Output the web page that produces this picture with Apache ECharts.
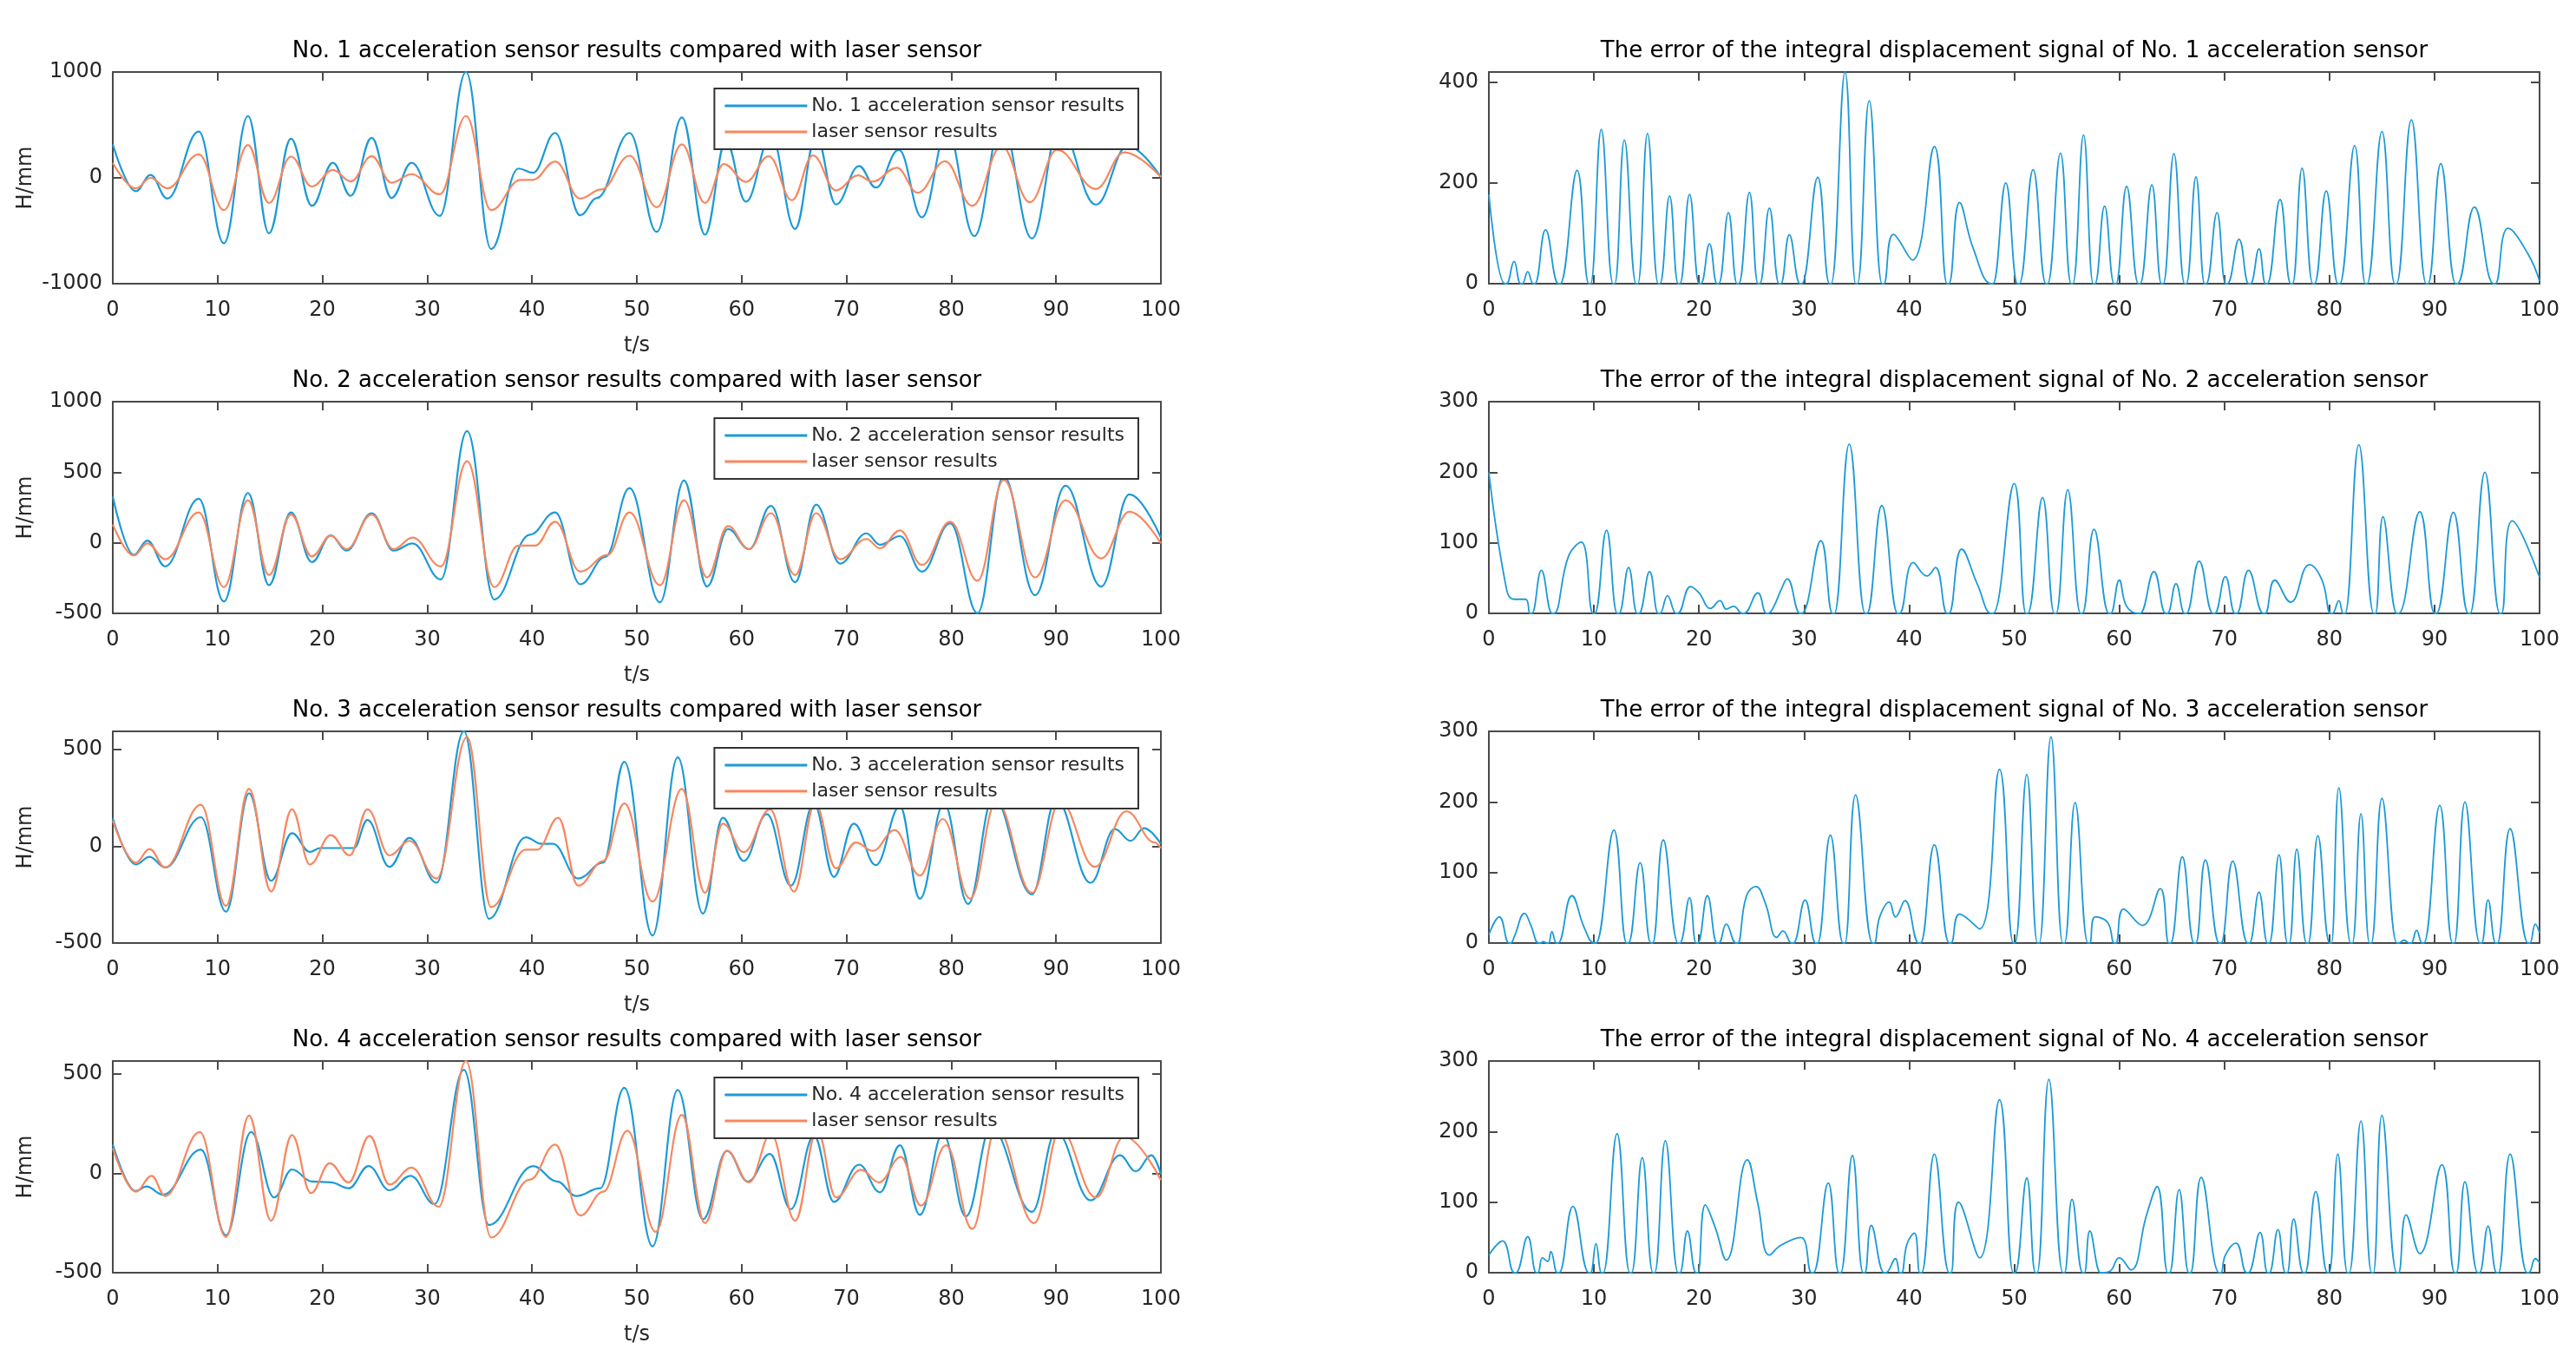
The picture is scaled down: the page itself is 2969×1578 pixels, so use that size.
<!DOCTYPE html>
<html>
<head>
<meta charset="utf-8">
<script src="https://cdn.jsdelivr.net/npm/echarts@6/dist/echarts.min.js"></script>
<style>
html,body{margin:0;padding:0;background:#fff;}
#chart{width:2969px;height:1578px;}
</style>
</head>
<body>
<div id="chart"></div>
<script>
// ---------------- DATA ----------------
const xTicks = [0,10,20,30,40,50,60,70,80,90,100];
const leftTitles = [
  'No. 1 acceleration sensor results compared with laser sensor',
  'No. 2 acceleration sensor results compared with laser sensor',
  'No. 3 acceleration sensor results compared with laser sensor',
  'No. 4 acceleration sensor results compared with laser sensor'
];
const rightTitles = [
  'The error of the integral displacement signal of No. 1 acceleration sensor',
  'The error of the integral displacement signal of No. 2 acceleration sensor',
  'The error of the integral displacement signal of No. 3 acceleration sensor',
  'The error of the integral displacement signal of No. 4 acceleration sensor'
];
const accNames = [
  'No. 1 acceleration sensor results',
  'No. 2 acceleration sensor results',
  'No. 3 acceleration sensor results',
  'No. 4 acceleration sensor results'
];
const laserName = 'laser sensor results';
const xName = 't/s';
const yName = 'H/mm';

const leftYMin = [-1000, -500, -500, -500];
const leftYMax = [1000, 1000, 592, 566];
const leftYStep = [1000, 500, 500, 500];
const rightYMin = [0, 0, 0, 0];
const rightYMax = [420, 300, 300, 300];
const rightYStep = [200, 100, 100, 100];

const acc1 = [[0,316],[2.2,-126],[3.6,27],[5.2,-196],[8.2,437],[10.6,-618],[12.9,584],[14.9,-523],[17.0,370],[19.0,-264],[21.0,142],[22.7,-170],[24.7,378],[26.6,-190],[28.5,142],[31.2,-360],[33.7,1000],[36.1,-673],[38.7,88],[40.1,48],[42.2,424],[44.6,-354],[46.2,-190],[49.3,424],[51.9,-510],[54.3,571],[56.5,-537],[58.5,350],[60.4,-225],[62.8,400],[65.1,-482],[67.1,400],[69.0,-252],[71.2,112],[72.8,-92],[75.0,266],[77.2,-373],[79.6,450],[82.2,-550],[84.8,520],[87.7,-572],[90.3,480],[93.8,-254],[96.8,300],[100,8]];
const las1 = [[0,142],[2.2,-100],[3.6,0],[5.2,-100],[8.2,222],[10.6,-305],[12.9,311],[14.9,-237],[17.0,201],[19.0,-82],[21.0,75],[22.7,-33],[24.7,204],[26.6,-46],[28.5,35],[31.2,-155],[33.7,584],[36.1,-305],[38.9,-19],[40.1,-19],[42.2,155],[44.6,-196],[46.6,-110],[49.3,209],[51.9,-278],[54.3,316],[56.5,-237],[58.3,130],[60.4,-38],[62.6,204],[64.8,-211],[66.8,212],[69.0,-118],[71.1,23],[72.5,-35],[74.8,96],[76.8,-140],[79.4,157],[82.0,-264],[84.8,300],[87.5,-230],[90.1,266],[93.8,-105],[96.5,241],[100,8]];
const err1 = [[0,177],[1.6,0],[2.4,44],[3.1,0],[3.7,24],[4.3,0],[5.4,107],[6.7,0],[8.4,225],[9.6,0],[10.7,306],[11.9,0],[12.9,285],[14.1,0],[15.1,298],[16.2,0],[17.2,174],[18.1,0],[19.1,177],[20.1,0],[21.0,79],[21.8,0],[22.8,141],[23.7,0],[24.8,181],[25.7,0],[26.7,150],[27.7,0],[28.6,97],[29.7,0],[31.3,211],[32.5,0],[33.9,420],[35.0,0],[36.2,363],[37.5,0],[38.5,98],[40.3,47],[42.4,272],[43.7,0],[44.8,161],[46.1,70],[47.9,0],[49.2,200],[50.4,0],[51.8,226],[53.1,0],[54.4,259],[55.5,0],[56.6,295],[57.6,0],[58.6,154],[59.6,0],[60.7,193],[61.9,0],[63.1,196],[64.1,0],[65.2,258],[66.3,0],[67.3,212],[68.2,0],[69.3,141],[70.2,0],[71.4,88],[72.4,0],[73.3,69],[74.0,0],[75.3,167],[76.4,0],[77.4,229],[78.5,0],[79.7,184],[80.9,0],[82.4,274],[83.5,0],[85.0,302],[86.3,0],[87.8,325],[89.3,0],[90.6,238],[92.1,0],[93.8,152],[95.7,0],[97.0,110],[98.9,59],[100,5]];

const acc2 = [[0,327],[2.0,-86],[3.3,16],[5.0,-167],[8.2,312],[10.6,-416],[12.9,353],[14.9,-300],[17.0,216],[19.0,-137],[20.8,53],[22.3,-55],[24.7,210],[26.8,-55],[28.6,-4],[31.3,-259],[33.8,792],[36.4,-402],[39.8,57],[42.2,216],[44.6,-294],[47.0,-100],[49.3,388],[52.2,-422],[54.5,441],[56.7,-310],[58.7,98],[60.7,-45],[62.8,261],[65.1,-280],[67.1,271],[69.4,-147],[71.9,67],[73.2,-14],[75.1,47],[77.2,-204],[79.9,139],[82.5,-498],[85.0,470],[88.0,-371],[90.9,404],[94.3,-310],[97.0,343],[100,37]];
const las2 = [[0,129],[2.0,-90],[3.3,-4],[5.0,-116],[8.2,216],[10.6,-314],[12.9,302],[14.9,-229],[17.0,200],[19.0,-96],[20.8,51],[22.3,-45],[24.7,200],[26.8,-45],[28.6,37],[31.3,-167],[33.8,578],[36.4,-314],[38.7,-20],[40.3,-20],[42.2,149],[44.6,-204],[47.2,-86],[49.3,216],[52.2,-300],[54.5,302],[56.7,-245],[58.7,118],[60.7,-45],[62.8,210],[65.1,-229],[67.1,210],[69.4,-116],[71.9,27],[73.2,-39],[75.1,88],[77.2,-157],[79.9,149],[82.5,-269],[85.0,445],[88.0,-245],[90.9,302],[94.3,-110],[97.0,220],[100,-4]];
const err2 = [[0,200],[1.7,33],[2.4,20],[3.5,20],[4.0,0],[5.0,61],[6.1,0],[7.6,82],[8.8,101],[10.0,0],[11.2,118],[12.3,0],[13.3,65],[14.2,0],[15.3,59],[16.2,0],[17.0,25],[17.9,0],[19.2,38],[20.0,29],[21.1,7],[22.0,18],[22.6,6],[23.3,10],[24.2,0],[25.6,29],[26.5,0],[27.1,9],[27.8,33],[28.4,49],[29.7,0],[31.6,103],[32.8,0],[34.3,240],[35.9,0],[37.4,153],[39.0,0],[40.4,72],[41.7,53],[42.5,65],[43.7,0],[45.0,91],[46.5,41],[47.9,0],[50.0,184],[51.2,0],[52.7,164],[53.9,0],[55.1,175],[56.4,0],[57.6,119],[59.1,0],[60.0,47],[60.7,10],[61.9,0],[63.3,59],[64.5,0],[65.4,42],[66.3,0],[67.6,74],[69.0,0],[70.1,52],[71.1,0],[72.3,61],[73.8,0],[74.8,47],[76.3,16],[78.1,69],[79.3,47],[80.2,0],[80.9,18],[81.4,0],[82.8,239],[84.3,0],[85.1,137],[86.5,0],[88.6,144],[90.1,0],[91.8,143],[93.3,0],[94.8,200],[96.3,0],[97.4,131],[100,51]];

const acc3 = [[0,143],[2.2,-95],[3.5,-55],[5.0,-110],[8.4,149],[10.8,-338],[13.0,272],[15.1,-179],[17.1,67],[18.8,-30],[19.8,-10],[23.0,-10],[24.3,135],[26.4,-107],[28.3,42],[30.9,-189],[33.5,592],[35.9,-375],[39.4,45],[40.9,12],[42.0,12],[44.4,-167],[46.8,-85],[48.8,435],[51.5,-461],[53.9,458],[56.3,-348],[58.2,146],[60.2,-77],[62.4,165],[64.7,-204],[66.9,220],[68.8,-159],[70.7,116],[72.8,-98],[75.1,205],[77.0,-271],[79.3,220],[81.6,-298],[84.0,250],[87.7,-249],[90.0,240],[93.3,-189],[95.6,88],[97.1,27],[98.4,92],[100,12]];
const las3 = [[0,131],[2.2,-85],[3.5,-15],[5.0,-110],[8.4,213],[10.8,-308],[13.0,295],[15.1,-234],[17.1,190],[18.8,-95],[20.8,57],[22.6,-48],[24.3,190],[26.4,-48],[28.3,27],[30.9,-167],[33.8,563],[36.1,-315],[39.4,-18],[40.5,-18],[42.5,146],[44.4,-204],[46.8,-77],[48.8,220],[51.5,-286],[54.3,295],[56.5,-241],[58.2,116],[60.2,-31],[62.7,190],[65.0,-234],[67.0,220],[69.0,-115],[70.9,19],[72.5,-25],[74.6,82],[77.0,-152],[79.2,140],[81.8,-271],[84.3,230],[87.7,-241],[90.4,230],[93.7,-107],[96.7,180],[99.4,19],[100,-10]];
const err3 = [[0,12],[1.0,37],[2.0,0],[2.4,8],[3.4,42],[4.0,25],[4.8,0],[5.2,2],[5.6,0],[6.0,16],[6.5,0],[7.9,67],[9.1,21],[10.1,0],[11.9,160],[13.2,0],[14.4,114],[15.5,0],[16.6,146],[18.1,0],[19.1,64],[19.8,0],[20.8,67],[21.8,0],[22.6,27],[23.6,0],[24.5,66],[25.4,80],[26.3,57],[27.4,8],[28.0,17],[28.9,0],[30.1,61],[31.2,0],[32.5,153],[33.8,0],[34.9,210],[36.6,0],[37.2,37],[38.1,58],[38.7,37],[39.6,60],[41.0,0],[42.4,139],[43.9,0],[44.8,41],[46.7,20],[48.6,246],[50.0,0],[51.2,239],[52.3,0],[53.5,292],[54.7,0],[55.8,199],[57.1,0],[57.7,37],[58.9,29],[59.6,0],[60.4,48],[62.2,25],[63.9,77],[64.8,0],[66.0,122],[67.2,0],[68.2,118],[69.6,0],[70.8,116],[72.3,0],[73.3,72],[74.2,0],[75.2,125],[76.1,0],[76.9,133],[77.9,0],[78.9,152],[80.1,0],[80.9,220],[82.1,0],[83.0,183],[83.9,0],[85.0,205],[86.5,0],[87.1,4],[87.7,0],[88.3,18],[88.9,0],[90.5,195],[91.8,0],[92.9,200],[94.4,0],[95.1,61],[95.9,0],[97.2,162],[99.0,0],[99.6,27],[100,14]];

const acc4 = [[0,145],[2.2,-89],[3.2,-66],[4.8,-107],[8.4,120],[10.8,-311],[13.2,208],[15.4,-121],[17.1,20],[19.0,-41],[20.8,-45],[22.5,-75],[24.4,37],[26.4,-85],[28.4,-12],[30.7,-154],[33.5,522],[35.9,-260],[40.1,37],[42.4,-41],[44.2,-114],[46.5,-75],[48.8,431],[51.5,-367],[53.9,420],[56.3,-231],[58.6,113],[60.6,-41],[62.7,98],[64.7,-180],[66.9,190],[68.8,-143],[71.2,44],[73.2,-95],[75.1,142],[77.0,-209],[79.2,200],[81.4,-216],[83.8,230],[87.7,-194],[90.0,210],[93.3,-136],[96.1,91],[97.6,10],[99.1,91],[100,-4]];
const las4 = [[0,127],[2.2,-92],[3.7,-12],[5.0,-114],[8.3,208],[10.8,-319],[13.0,291],[15.1,-238],[17.1,193],[18.9,-99],[20.7,51],[22.5,-45],[24.5,189],[26.4,-56],[28.5,29],[31.1,-168],[33.7,566],[36.1,-323],[39.8,-31],[42.2,145],[44.6,-212],[46.8,-92],[49.1,215],[51.8,-294],[54.3,295],[56.5,-250],[58.6,115],[60.7,-45],[62.8,200],[65.1,-238],[67.2,220],[69.0,-121],[71.4,18],[73.1,-45],[75.2,83],[77.1,-162],[79.5,142],[82.0,-279],[84.3,230],[87.9,-250],[90.4,220],[93.8,-121],[96.5,186],[100,-34]];
const err4 = [[0,25],[1.3,45],[2.5,0],[3.7,51],[4.6,0],[5.1,21],[5.6,16],[5.9,30],[6.6,0],[8.0,94],[9.6,0],[10.2,41],[10.8,0],[12.2,197],[13.5,0],[14.6,163],[15.7,0],[16.8,187],[18.1,0],[18.9,59],[19.8,0],[20.6,96],[21.5,66],[22.6,18],[24.6,160],[25.6,98],[26.7,25],[27.8,39],[29.7,50],[30.8,0],[32.3,127],[33.4,0],[34.6,166],[35.7,0],[36.4,67],[37.7,0],[38.7,20],[39.2,0],[39.8,41],[40.5,56],[41.1,0],[42.4,168],[43.9,0],[44.7,100],[46.7,21],[48.6,245],[50.0,0],[51.2,134],[52.1,0],[53.3,274],[54.7,0],[55.5,104],[56.6,0],[57.2,59],[58.3,0],[59.1,2],[60.0,21],[61.1,4],[62.6,82],[63.6,122],[64.7,0],[65.7,118],[66.7,0],[67.8,135],[69.6,0],[70.1,25],[71.1,42],[72.2,0],[73.4,57],[74.2,0],[75.1,61],[75.9,0],[76.6,76],[77.6,0],[78.7,115],[79.9,0],[80.8,168],[81.8,0],[83.0,215],[84.1,0],[85.0,223],[86.5,0],[87.3,82],[88.6,27],[90.7,153],[92.0,0],[92.9,129],[94.2,0],[95.1,66],[96.0,0],[97.2,168],[98.9,0],[99.6,20],[100,14]];

const accData = [acc1, acc2, acc3, acc4];
const lasData = [las1, las2, las3, las4];
const errData = [err1, err2, err3, err4];

// ---------------- LAYOUT / STYLE ----------------
const FONT = 'DejaVu Sans';
const BLUE = '#1c9ad6';
const ORANGE = '#f7875f';
const AXIS = '#4a4a4a';
const TXT = '#262626';
const LEFT_X = 130, LEFT_W = 1208;
const RIGHT_X = 1716, RIGHT_W = 1211;
const TOPS = [83, 463, 843, 1223];
const GH = 244;

// Zero crossings of |error| are sharp cusps: keep the curve pointed there.
function withCusps(pts) {
  const out = [];
  pts.forEach(p => {
    if (p[1] === 0) { out.push([p[0] - 0.08, 0]); out.push([p[0] + 0.08, 0]); }
    else out.push(p);
  });
  return out;
}

const grids = [], xAxes = [], yAxes = [], series = [], titles = [], legends = [];

function addPanel(gi, left, width, top, yMin, yMax, yStep, isLeft) {
  grids.push({left: left, top: top, width: width, height: GH, outerBoundsMode: 'none', containLabel: false});
  const tickCommon = {show: true, inside: true, length: 10, lineStyle: {color: AXIS, width: 2}};
  const lineCommon = {show: true, onZero: false, lineStyle: {color: AXIS, width: 2}};
  xAxes.push({
    type: 'value', gridIndex: gi, position: 'bottom', min: xTicks[0], max: xTicks[xTicks.length - 1], interval: 10,
    axisLine: lineCommon, axisTick: tickCommon, splitLine: {show: false},
    axisLabel: {show: true, margin: 19, color: TXT, fontFamily: FONT, fontSize: 24},
    name: isLeft ? xName : '', nameLocation: 'middle', nameGap: 60,
    nameTextStyle: {color: TXT, fontFamily: FONT, fontSize: 24}
  });
  xAxes.push({
    type: 'value', gridIndex: gi, position: 'top', min: xTicks[0], max: xTicks[xTicks.length - 1], interval: 10,
    axisLine: lineCommon, axisTick: tickCommon, splitLine: {show: false}, axisLabel: {show: false}
  });
  const fmt = v => (Math.abs(v % yStep) < 1e-9 ? String(v) : '');
  yAxes.push({
    type: 'value', gridIndex: gi, position: 'left', min: yMin, max: yMax, interval: yStep,
    axisLine: lineCommon, axisTick: tickCommon, splitLine: {show: false},
    axisLabel: {show: true, margin: 12, color: TXT, fontFamily: FONT, fontSize: 24, formatter: fmt},
    name: isLeft ? yName : '', nameLocation: 'middle', nameGap: 88, nameRotate: 90,
    nameTextStyle: {color: TXT, fontFamily: FONT, fontSize: 24}
  });
  yAxes.push({
    type: 'value', gridIndex: gi, position: 'right', min: yMin, max: yMax, interval: yStep,
    axisLine: lineCommon, axisTick: tickCommon, splitLine: {show: false}, axisLabel: {show: false}
  });
}

for (let r = 0; r < 4; r++) {
  const gl = r * 2, gr = r * 2 + 1;
  addPanel(gl, LEFT_X, LEFT_W, TOPS[r], leftYMin[r], leftYMax[r], leftYStep[r], true);
  addPanel(gr, RIGHT_X, RIGHT_W, TOPS[r], rightYMin[r], rightYMax[r], rightYStep[r], false);

  series.push({
    name: accNames[r], type: 'line', xAxisIndex: gl * 2, yAxisIndex: gl * 2,
    data: accData[r], symbol: 'none', smooth: 0.4, smoothMonotone: 'x',
    lineStyle: {color: BLUE, width: 2.2}, itemStyle: {color: BLUE}, z: 2, silent: true, animation: false
  });
  series.push({
    name: laserName, type: 'line', xAxisIndex: gl * 2, yAxisIndex: gl * 2,
    data: lasData[r], symbol: 'none', smooth: 0.4, smoothMonotone: 'x',
    lineStyle: {color: ORANGE, width: 2.2}, itemStyle: {color: ORANGE}, z: 3, silent: true, animation: false
  });
  series.push({
    name: 'error ' + (r + 1), type: 'line', xAxisIndex: gr * 2, yAxisIndex: gr * 2,
    data: withCusps(errData[r]), symbol: 'none', smooth: 0.45,
    lineStyle: {color: BLUE, width: 1.8}, itemStyle: {color: BLUE}, z: 2, silent: true, animation: false
  });

  titles.push({
    text: leftTitles[r], left: LEFT_X + LEFT_W / 2, textAlign: 'center', top: TOPS[r] - 37, padding: 0,
    textStyle: {fontFamily: FONT, fontSize: 26, fontWeight: 'normal', color: '#000'}
  });
  titles.push({
    text: rightTitles[r], left: RIGHT_X + RIGHT_W / 2, textAlign: 'center', top: TOPS[r] - 37, padding: 0,
    textStyle: {fontFamily: FONT, fontSize: 26, fontWeight: 'normal', color: '#000'}
  });

  legends.push({
    data: [accNames[r], laserName], orient: 'vertical', right: 2969 - 1312, top: TOPS[r] + 19,
    icon: 'rect', itemWidth: 95, itemHeight: 3, itemGap: 8,
    padding: [9, 16, 9, 12], backgroundColor: '#fff', borderColor: '#333', borderWidth: 2, borderRadius: 0,
    textStyle: {fontFamily: FONT, fontSize: 22, color: TXT}, selectedMode: false, z: 10
  });
}

const chart = echarts.init(document.getElementById('chart'), null, {renderer: 'canvas'});
chart.setOption({
  backgroundColor: '#fff',
  animation: false,
  title: titles,
  legend: legends,
  grid: grids,
  xAxis: xAxes,
  yAxis: yAxes,
  series: series,
  tooltip: {show: false}
});
</script>
</body>
</html>
